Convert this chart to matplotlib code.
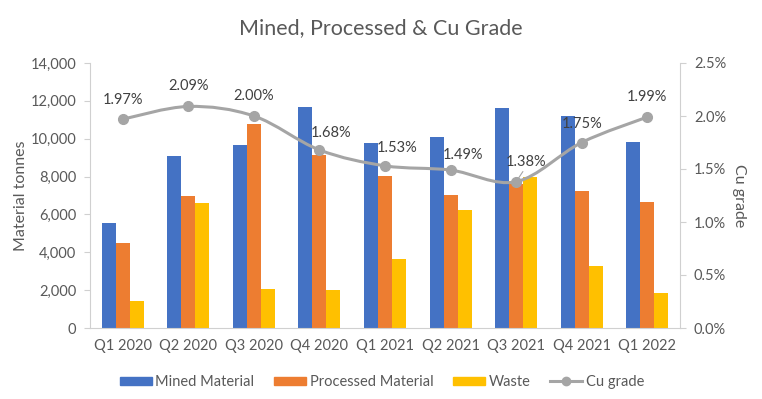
import numpy as np
import matplotlib
matplotlib.use("Agg")
import matplotlib.pyplot as plt
from matplotlib.path import Path
from matplotlib.patches import PathPatch
from matplotlib.lines import Line2D
from matplotlib.patches import Patch
from matplotlib.ticker import FuncFormatter

quarters = ["Q1 2020", "Q2 2020", "Q3 2020", "Q4 2020", "Q1 2021",
            "Q2 2021", "Q3 2021", "Q4 2021", "Q1 2022"]
mined = [5550, 9070, 9650, 11680, 9760, 10090, 11620, 11200, 9830]
processed = [4480, 6950, 10780, 9130, 8050, 7030, 7600, 7240, 6660]
waste = [1450, 6600, 2080, 2020, 3650, 6220, 7960, 3290, 1850]
cu_grade = [1.97, 2.09, 2.00, 1.68, 1.53, 1.49, 1.38, 1.75, 1.99]

# label offsets in pixels (dx, dy) to mimic the Excel placement
label_offsets = [(0, 19), (0, 20), (0, 20), (12, 17), (12, 18),
                 (12, 15), (10, 20), (0, 19), (0, 20)]

BLUE = "#4472C4"
ORANGE = "#ED7D31"
YELLOW = "#FFC000"
GRAY = "#A5A5A5"
TXT = "#595959"
AXIS = "#D0D0D0"

plt.rcParams["font.family"] = ["Lato", "DejaVu Sans"]

fig = plt.figure(figsize=(7.62, 3.99), dpi=100)
ax = fig.add_axes([90 / 762, 1 - 328 / 399, (680 - 90) / 762, (328 - 63) / 399])
ax2 = ax.twinx()

x = np.arange(len(quarters))
w = 0.213
ax.bar(x - w, mined, w, color=BLUE, label="Mined Material")
ax.bar(x, processed, w, color=ORANGE, label="Processed Material")
ax.bar(x + w, waste, w, color=YELLOW, label="Waste")

ax.set_xlim(-0.5, len(quarters) - 0.5)
ax.set_ylim(0, 14000)
ax.set_yticks(range(0, 14001, 2000))
ax.yaxis.set_major_formatter(FuncFormatter(lambda v, p: f"{int(v):,}"))
ax.set_xticks(x)
ax.set_xticklabels(quarters)
ax.tick_params(axis="x", colors=TXT, labelsize=10.5, length=0, pad=8)
ax.tick_params(axis="y", colors=TXT, labelsize=10.5, length=4, color=AXIS, pad=6)
for s in ["top", "right"]:
    ax.spines[s].set_visible(False)
ax.spines["bottom"].set_color(AXIS)
ax.spines["left"].set_color(AXIS)
ax.set_ylabel("Material tonnes", color=TXT, fontsize=11.5, labelpad=2)

# smoothed Cu grade line (Excel-style Catmull-Rom Bezier)
pts = np.column_stack([x, cu_grade]).astype(float)
verts = [pts[0]]
codes = [Path.MOVETO]
n = len(pts)
for i in range(n - 1):
    p0 = pts[i - 1] if i > 0 else pts[i]
    p1 = pts[i]
    p2 = pts[i + 1]
    p3 = pts[i + 2] if i + 2 < n else pts[i + 1]
    c1 = p1 + (p2 - p0) / 6
    c2 = p2 - (p3 - p1) / 6
    verts += [c1, c2, p2]
    codes += [Path.CURVE4] * 3
ax2.add_patch(PathPatch(Path(verts, codes), fill=False, edgecolor=GRAY, lw=2.2, zorder=3))
ax2.plot(x, cu_grade, "o", color=GRAY, ms=7, zorder=4)

for i, v in enumerate(cu_grade):
    dx, dy = label_offsets[i]
    ax2.annotate(f"{v:.2f}%", (x[i], v), xytext=(dx * 0.72, dy * 0.72),
                 textcoords="offset points", ha="center", va="center",
                 color="#404040", fontsize=10.5, zorder=5)
# leader line for the 1.38% label
ax2.annotate("", (x[6], cu_grade[6]), xytext=(6, 9), textcoords="offset points",
             arrowprops=dict(arrowstyle="-", color=GRAY, lw=0.8))

ax2.set_ylim(0, 2.5)
ax2.set_yticks(np.arange(0, 2.51, 0.5))
ax2.yaxis.set_major_formatter(FuncFormatter(lambda v, p: f"{v:.1f}%"))
ax2.tick_params(axis="y", colors=TXT, labelsize=10.5, length=4, color=AXIS, pad=6)
for s in ["top", "left", "bottom"]:
    ax2.spines[s].set_visible(False)
ax2.spines["right"].set_color(AXIS)
ax2.set_ylabel("Cu grade", color=TXT, fontsize=11.5, rotation=270, labelpad=14)

fig.suptitle("Mined, Processed & Cu Grade", x=0.5, y=0.955, fontsize=15.5, color=TXT)

handles = [Patch(color=BLUE), Patch(color=ORANGE), Patch(color=YELLOW),
           Line2D([], [], color=GRAY, lw=2.2, marker="o", ms=6)]
labels = ["Mined Material", "Processed Material", "Waste", "Cu grade"]
fig.legend(handles, labels, loc="center", bbox_to_anchor=(382 / 762, 1 - 382 / 399), ncol=4,
           frameon=False, fontsize=10.5, labelcolor=TXT, handlelength=2.2,
           handleheight=0.45, columnspacing=1.35, handletextpad=0.25)

fig.savefig("out.png", dpi=100)
